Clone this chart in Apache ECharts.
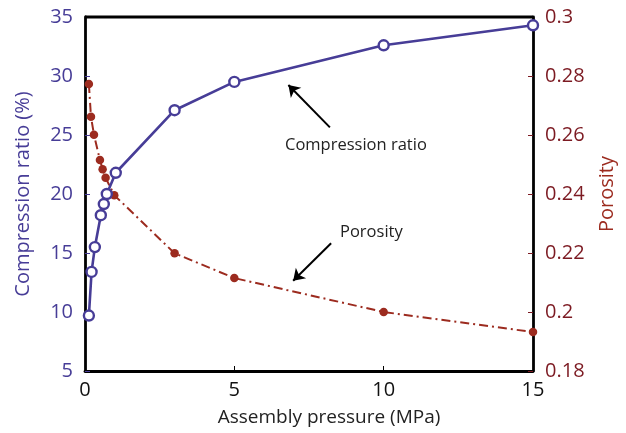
<!DOCTYPE html>
<html><head><meta charset="utf-8">
<script src="https://cdn.jsdelivr.net/npm/echarts@6/dist/echarts.min.js"></script>
<style>html,body{margin:0;padding:0;background:#fff}#c{width:626px;height:433px}</style>
</head><body><div id="c"></div>
<script>
const pressureCR = [0.13, 0.22, 0.33, 0.53, 0.63, 0.73, 1.03, 3, 5, 10, 15];
const compressionRatio = [9.7, 13.4, 15.5, 18.2, 19.15, 20.0, 21.8, 27.1, 29.5, 32.6, 34.3];
const pressurePor = [0.13, 0.2, 0.3, 0.5, 0.59, 0.69, 0.98, 3, 5, 10, 15];
const porosity = [0.2773, 0.2662, 0.2601, 0.2515, 0.2484, 0.2455, 0.2396, 0.2199, 0.2115, 0.2, 0.1932];
const xTicks = [0, 5, 10, 15];
const leftTicks = [5, 10, 15, 20, 25, 30, 35];
const rightTicks = [0.18, 0.2, 0.22, 0.24, 0.26, 0.28, 0.3];

const BLUE = '#473d97';
const RED = '#9c2b1f';
const DRED = '#7c1a22';
const FONT = '"Open Sans", "Noto Sans", sans-serif';

const chart = echarts.init(document.getElementById('c'));
chart.setOption({
  animation: false,
  grid: {left: 85, right: 93, top: 17, bottom: 62},
  xAxis: {
    type: 'value', min: xTicks[0], max: xTicks[xTicks.length-1], interval: 5,
    name: 'Assembly pressure (MPa)', nameLocation: 'middle', nameGap: 37,
    nameTextStyle: {fontFamily: FONT, fontSize: 19, color: '#222', padding: [0,0,0,40]},
    axisLine: {lineStyle: {color: '#000', width: 2.8}},
    axisTick: {inside: true, length: 5, lineStyle: {color: '#000', width: 1}},
    axisLabel: {fontFamily: FONT, fontSize: 20, color: '#111', margin: 9},
    splitLine: {show: false}
  },
  yAxis: [{
    type: 'value', min: leftTicks[0], max: leftTicks[leftTicks.length-1], interval: 5, position: 'left',
    name: 'Compression ratio (%)', nameLocation: 'middle', nameGap: 52, nameRotate: 90,
    nameTextStyle: {fontFamily: FONT, fontSize: 20, color: BLUE},
    axisLine: {show: true, lineStyle: {color: '#000', width: 2.8}},
    axisTick: {show: true, inside: true, length: 5, lineStyle: {color: BLUE, width: 1}},
    axisLabel: {fontFamily: FONT, fontSize: 20, color: BLUE, margin: 12},
    splitLine: {show: false}
  }, {
    type: 'value', min: rightTicks[0], max: rightTicks[rightTicks.length-1], interval: 0.02, position: 'right',
    name: 'Porosity', nameLocation: 'middle', nameGap: 64, nameRotate: 90,
    nameTextStyle: {fontFamily: FONT, fontSize: 20, color: RED},
    axisLine: {show: true, lineStyle: {color: '#000', width: 2.8}},
    axisTick: {show: true, inside: true, length: 5, lineStyle: {color: DRED, width: 1}},
    axisLabel: {fontFamily: FONT, fontSize: 20, color: DRED, margin: 12,
      formatter: v => String(+v.toFixed(2))},
    splitLine: {show: false}
  }],
  graphic: [
    {type: 'rect', shape: {x: 85, y: 17, width: 448, height: 0}, style: {stroke: '#000', lineWidth: 2.8, fill: 'none'}, z: 10},
    {type: 'text', left: 285, top: 137, style: {text: 'Compression ratio', fontFamily: FONT, fontSize: 16.5, fill: '#222'}},
    {type: 'text', left: 340, top: 224, style: {text: 'Porosity', fontFamily: FONT, fontSize: 16.5, fill: '#222'}}
  ],
  series: [{
    type: 'line', yAxisIndex: 0,
    data: pressureCR.map((x, i) => [x, compressionRatio[i]]),
    symbol: 'circle', symbolSize: 10, showSymbol: true,
    itemStyle: {color: '#fff', borderColor: BLUE, borderWidth: 2.4},
    lineStyle: {color: BLUE, width: 2.6}, z: 3,
    markLine: {
      silent: true, symbol: ['none', 'arrow'], symbolSize: 11,
      lineStyle: {color: '#000', width: 2, type: 'solid'}, label: {show: false},
      data: [[{coord: [8.2, 25.65]}, {coord: [6.81, 29.24]}]]
    }
  }, {
    type: 'line', yAxisIndex: 1,
    data: pressurePor.map((x, i) => [x, porosity[i]]),
    symbol: 'circle', symbolSize: 8.5, showSymbol: true,
    itemStyle: {color: RED, borderColor: RED, borderWidth: 0},
    lineStyle: {color: RED, width: 2, type: [9, 4, 2, 4]}, z: 2,
    markLine: {
      silent: true, symbol: ['none', 'arrow'], symbolSize: 11,
      lineStyle: {color: '#000', width: 2, type: 'solid'}, label: {show: false},
      data: [[{coord: [8.24, 0.2233]}, {coord: [6.97, 0.2106]}]]
    }
  }]
});
</script></body></html>
